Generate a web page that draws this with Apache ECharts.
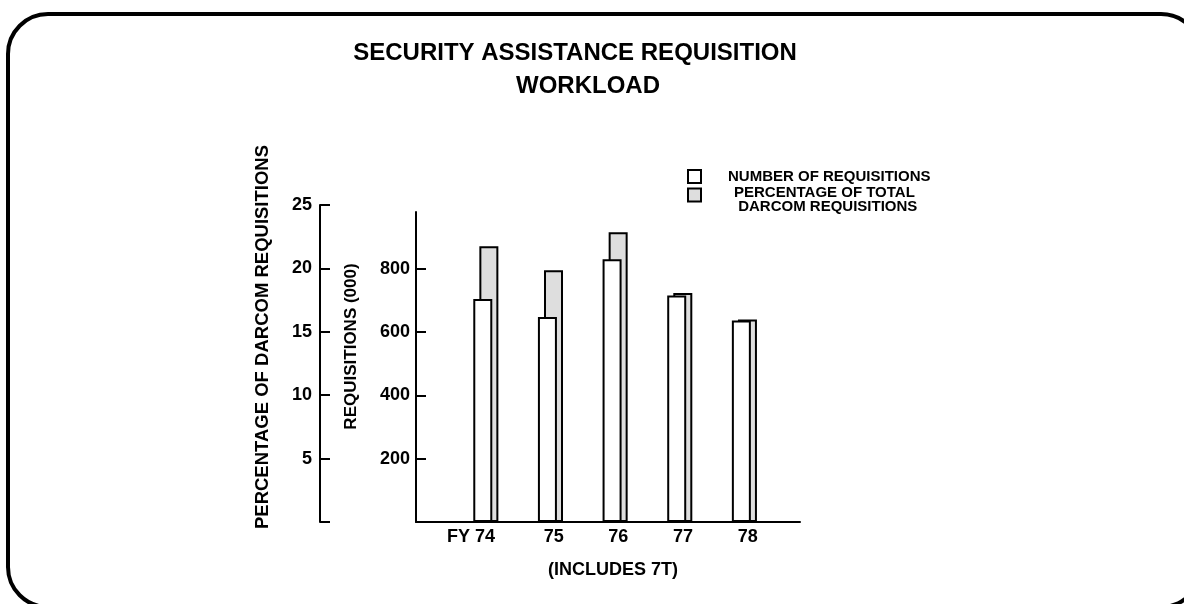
<!DOCTYPE html>
<html>
<head>
<meta charset="utf-8">
<script src="https://cdn.jsdelivr.net/npm/echarts@6/dist/echarts.min.js"></script>
<style>html,body{margin:0;padding:0;background:#fff}#c{width:1184px;height:604px}</style>
</head>
<body>
<div id="c"></div>
<script>
const categories = ['FY 74', '75', '76', '77', '78'];
const requisitions = [705, 648, 831, 716, 637];          // thousands
const percentDarcom = [21.8, 19.9, 22.9, 18.1, 16.0];    // percent
const reqTicks = [200, 400, 600, 800];
const pctTicks = [0, 5, 10, 15, 20, 25];
const pctLabels = [5, 10, 15, 20, 25];

const FONT = 'Liberation Sans';
const chart = echarts.init(document.getElementById('c'));
const REQ_MAX = 980;
const PCT_HIDDEN_MAX = 25 * REQ_MAX / 1000;

chart.setOption({
  animation: false,
  backgroundColor: '#fff',
  textStyle: { fontFamily: FONT, fontWeight: 'bold', color: '#000' },
  title: [
    { text: 'SECURITY ASSISTANCE REQUISITION', left: 575, top: 41, textAlign: 'center', padding: 0,
      textStyle: { fontFamily: FONT, fontWeight: 'bold', fontSize: 24, color: '#000' } },
    { text: 'WORKLOAD', left: 588, top: 74, textAlign: 'center', padding: 0,
      textStyle: { fontFamily: FONT, fontWeight: 'bold', fontSize: 24, color: '#000' } }
  ],
  legend: [
    { data: ['NUMBER OF REQUISITIONS'], orient: 'vertical', left: 687, top: 169, padding: 0,
      itemWidth: 13, itemHeight: 13, icon: 'rect',
      textStyle: { fontFamily: FONT, fontWeight: 'bold', fontSize: 15, color: '#000', padding: [0, 0, 0, 22] } },
    { data: ['PERCENTAGE OF TOTAL DARCOM REQUISITIONS'], orient: 'vertical', left: 687, top: 180.5, padding: 0,
      itemWidth: 13, itemHeight: 13, icon: 'rect',
      formatter: () => '{s| }\n{a|PERCENTAGE OF TOTAL}\n{a| DARCOM REQUISITIONS}',
      textStyle: { fontFamily: FONT, fontWeight: 'bold', fontSize: 15, color: '#000', padding: [0, 0, 0, 28],
        rich: {
          s: { fontSize: 1, lineHeight: 10 },
          a: { fontFamily: FONT, fontWeight: 'bold', fontSize: 15, lineHeight: 14, color: '#000' }
        } } }
  ],
  grid: [
    { left: 320, top: 205, right: 384, bottom: 82, outerBoundsMode: 'none' },
    { left: 416, top: 212, right: 384, bottom: 82, outerBoundsMode: 'none' }
  ],
  xAxis: [
    { type: 'value', gridIndex: 0, show: false, min: 0, max: 1 },
    { type: 'value', gridIndex: 1, min: -1.08, max: 4.86,
      axisLine: { show: true, onZero: false, lineStyle: { color: '#000', width: 2 } },
      axisTick: { show: false }, splitLine: { show: false },
      axisLabel: {
        customValues: categories.map((c, i) => i + 0.05),
        formatter: v => { const i = Math.round(v); return i === 0 ? '{fy|' + categories[i] + '}' : categories[i]; },
        rich: { fy: { fontFamily: FONT, fontWeight: 'bold', fontSize: 18, color: '#000', padding: [0, 36, 0, 0] } },
        fontFamily: FONT, fontWeight: 'bold', fontSize: 18, color: '#000', margin: 6
      },
      name: '(INCLUDES 7T)', nameLocation: 'middle', nameGap: 39,
      nameTextStyle: { fontFamily: FONT, fontWeight: 'bold', fontSize: 18, color: '#000', padding: [0, 0, 0, 10] }
    }
  ],
  yAxis: [
    { type: 'value', gridIndex: 0, min: 0, max: 25, interval: 5, position: 'left',
      axisLine: { show: true, onZero: false, lineStyle: { color: '#000', width: 2 } },
      axisTick: { show: true, inside: true, length: 10, customValues: pctTicks, lineStyle: { color: '#000', width: 2 } },
      splitLine: { show: false },
      axisLabel: { customValues: pctLabels, fontFamily: FONT, fontWeight: 'bold', fontSize: 18, color: '#000', margin: 8 },
      name: 'PERCENTAGE OF DARCOM REQUISITIONS', nameLocation: 'middle', nameRotate: 90, nameGap: 48,
      nameMoveOverlap: false,
      nameTextStyle: { fontFamily: FONT, fontWeight: 'bold', fontSize: 18.5, color: '#000', padding: [0, 0, 0, 53] }
    },
    { type: 'value', gridIndex: 1, min: 0, max: REQ_MAX, position: 'left',
      axisLine: { show: true, onZero: false, lineStyle: { color: '#000', width: 2 } },
      axisTick: { show: true, inside: true, length: 10, customValues: reqTicks, lineStyle: { color: '#000', width: 2 } },
      splitLine: { show: false },
      axisLabel: { customValues: reqTicks, fontFamily: FONT, fontWeight: 'bold', fontSize: 18, color: '#000', margin: 6 },
      name: 'REQUISITIONS (000)', nameLocation: 'middle', nameRotate: 90, nameGap: 56,
      nameMoveOverlap: false,
      nameTextStyle: { fontFamily: FONT, fontWeight: 'bold', fontSize: 17, color: '#000', padding: [0, 0, 0, 41] }
    },
    { type: 'value', gridIndex: 1, min: 0, max: PCT_HIDDEN_MAX, show: false, splitLine: { show: false } }
  ],
  series: [
    { name: 'NUMBER OF REQUISITIONS', type: 'bar', xAxisIndex: 1, yAxisIndex: 1,
      data: requisitions.map((v, i) => [i, v]), barWidth: 19, barGap: '-68%', z: 3,
      itemStyle: { color: '#fff', borderColor: '#000', borderWidth: 2 } },
    { name: 'PERCENTAGE OF TOTAL DARCOM REQUISITIONS', type: 'bar', xAxisIndex: 1, yAxisIndex: 2,
      data: percentDarcom.map((v, i) => [i, v]), barWidth: 19, barGap: '-68%', z: 2,
      itemStyle: { color: '#dedede', borderColor: '#000', borderWidth: 2 } }
  ],
  graphic: [
    { type: 'rect', silent: true, z: 100,
      shape: { x: 8, y: 14, width: 1193, height: 593, r: 40 },
      style: { fill: 'none', stroke: '#000', lineWidth: 4 } }
  ]
});
</script>
</body>
</html>
